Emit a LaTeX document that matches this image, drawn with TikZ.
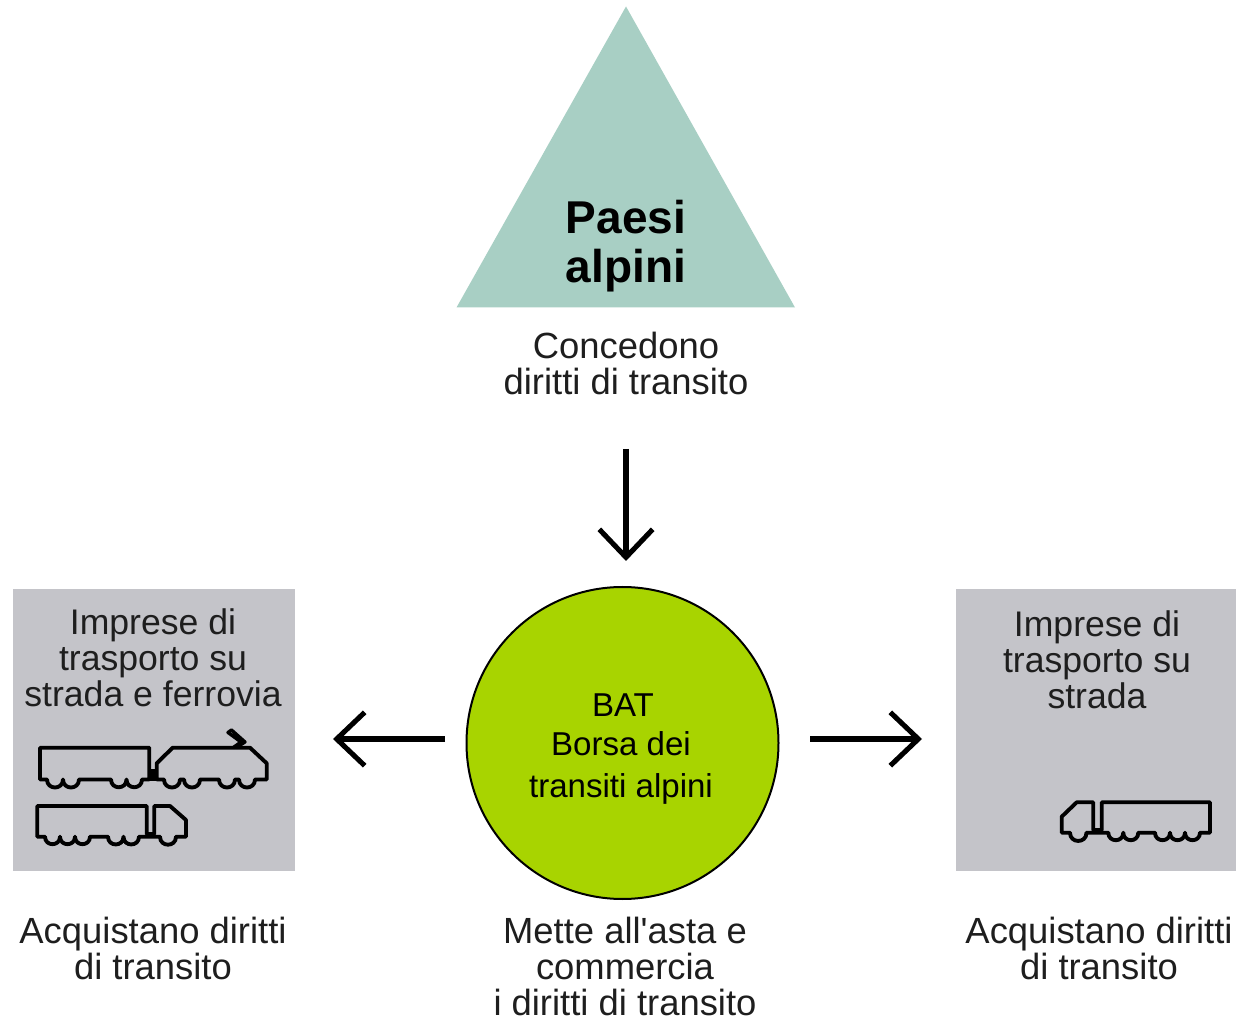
\documentclass[tikz,border=0pt]{standalone}
\usepackage{fontspec}
\setmainfont{Liberation Sans}
\usetikzlibrary{arrows.meta}
\definecolor{tri}{HTML}{A8CFC4}
\definecolor{boxg}{HTML}{C4C4C9}
\definecolor{lime}{HTML}{A8D400}
\definecolor{lab}{HTML}{1E1E1E}
\newcommand{\wh}[1]{.. controls +(0,{0.667*#1}) and +(0,{0.667*#1}) .. ++(#1,0)}
\tikzset{
  lbl/.style={inner sep=0pt,align=center,text=lab,font=\fontsize{27.3}{27}\selectfont},
  plbl/.style={inner sep=0pt,align=center,text=lab,font=\fontsize{26.7}{27}\selectfont},
  hub/.style={inner sep=0pt,anchor=base,text=black,font=\fontsize{24.8}{28}\selectfont},
  head/.style={inner sep=0pt,anchor=base,text=black,font=\fontsize{34.5}{37}\selectfont\bfseries},
  icon/.style={draw=black,line width=2.9pt,line join=round},
  flow/.style={draw=black,line width=3.8pt,-{Straight Barb[length=21pt,width=40pt,line width=3.8pt]}},
  panel/.style={fill=boxg,draw=none}
}
\begin{document}
\begin{tikzpicture}[x=0.75pt,y=-0.75pt]
\useasboundingbox (0,0) rectangle (1236,1019);
\fill[white] (0,0) rectangle (1236,1019);
% triangle
\fill[tri] (626,6.5) -- (795,307.5) -- (456.5,307.5) -- cycle;
\node[head] (p1) at (626,233.5) {Paesi};
\node[head] (p2) at (626,283) {alpini};
\node[lbl] (t1) at (626,363) {Concedono\\diritti di transito};
% panels
\fill[panel] (13,589) rectangle (295,871);
\fill[panel] (956,589) rectangle (1236,871);
\node[plbl] (t2) at (153,658) {Imprese di\\trasporto su\\strada e ferrovia};
\node[plbl] (t3) at (1097,660) {Imprese di\\trasporto su\\strada};
\node[lbl] (t4) at (153,948) {Acquistano diritti\\di transito};
\node[lbl] (t5) at (1099,948) {Acquistano diritti\\di transito};
\node[lbl] (t6) at (625,966) {Mette all\textquotesingle asta e\\commercia\\i diritti di transito};
% hub
\node[circle,fill=lime,draw=black,line width=1.5pt,minimum size=312pt*0.75,inner sep=0pt] (hub) at (622.5,743) {};
\node[hub] (h1) at (623,716.5) {BAT};
\node[hub] (h2) at (621,755) {Borsa dei};
\node[hub] (h3) at (621,797) {transiti alpini};
% arrows
\coordinate (d0) at (626,449); \coordinate (d1) at (626,561);
\coordinate (l0) at (445,739); \coordinate (l1) at (333,739);
\coordinate (r0) at (810,739); \coordinate (r1) at (922,739);
\draw[flow] (d0) -- (d1);
\draw[flow] (l0) -- (l1);
\draw[flow] (r0) -- (r1);
% train wagon
\draw[icon] (40,779.5) -- (47,779.5) \wh{16} \wh{16} -- (111,779.5) \wh{15.5} \wh{15.5} -- (149.3,779.5) -- (149.3,747.7) -- (40,747.7) -- cycle;
% coupling
\draw[icon] (149.3,770.5) -- (157,770.5) (149.3,779.5) -- (157,779.5) (153,770.5) -- (153,779.5);
% locomotive
\draw[icon] (156.7,779.5) -- (164,779.5) \wh{16} -- ++(4,0) \wh{16} -- (219,779.5) \wh{16} -- ++(4,0) \wh{16} -- (266.7,779.5) -- (266.7,763.3) -- (250,747.7) -- (172.7,747.7) -- (156.7,763.3) -- cycle;
\draw[line width=2.5pt,line join=round] (233,747.7) -- (241,742) -- (228,732.5) -- (231.5,730) -- (245,742) -- (236,747.7);
% lorry
\draw[icon] (37.3,836.7) -- (45,836.7) \wh{15} \wh{15} \wh{15} -- (108,836.7) \wh{15.5} \wh{15.5} -- (160,836.7) \wh{16} -- (186,836.7) -- (186,820) -- (170,806) -- (154.3,806) -- (154.3,834) -- (146.7,834) -- (146.7,806) -- (37.3,806) -- cycle;
% right lorry
\draw[icon] (1061.7,832.7) -- (1070,832.7) \wh{16.5} -- (1108.3,832.7) \wh{15} \wh{15} -- (1155,832.7) \wh{15} \wh{15} \wh{15} -- (1210,832.7) -- (1210,802.3) -- (1101.7,802.3) -- (1101.7,830) -- (1093.3,830) -- (1093.3,802.3) -- (1076.7,802.3) -- (1061.7,816.7) -- cycle;
\end{tikzpicture}
\end{document}
